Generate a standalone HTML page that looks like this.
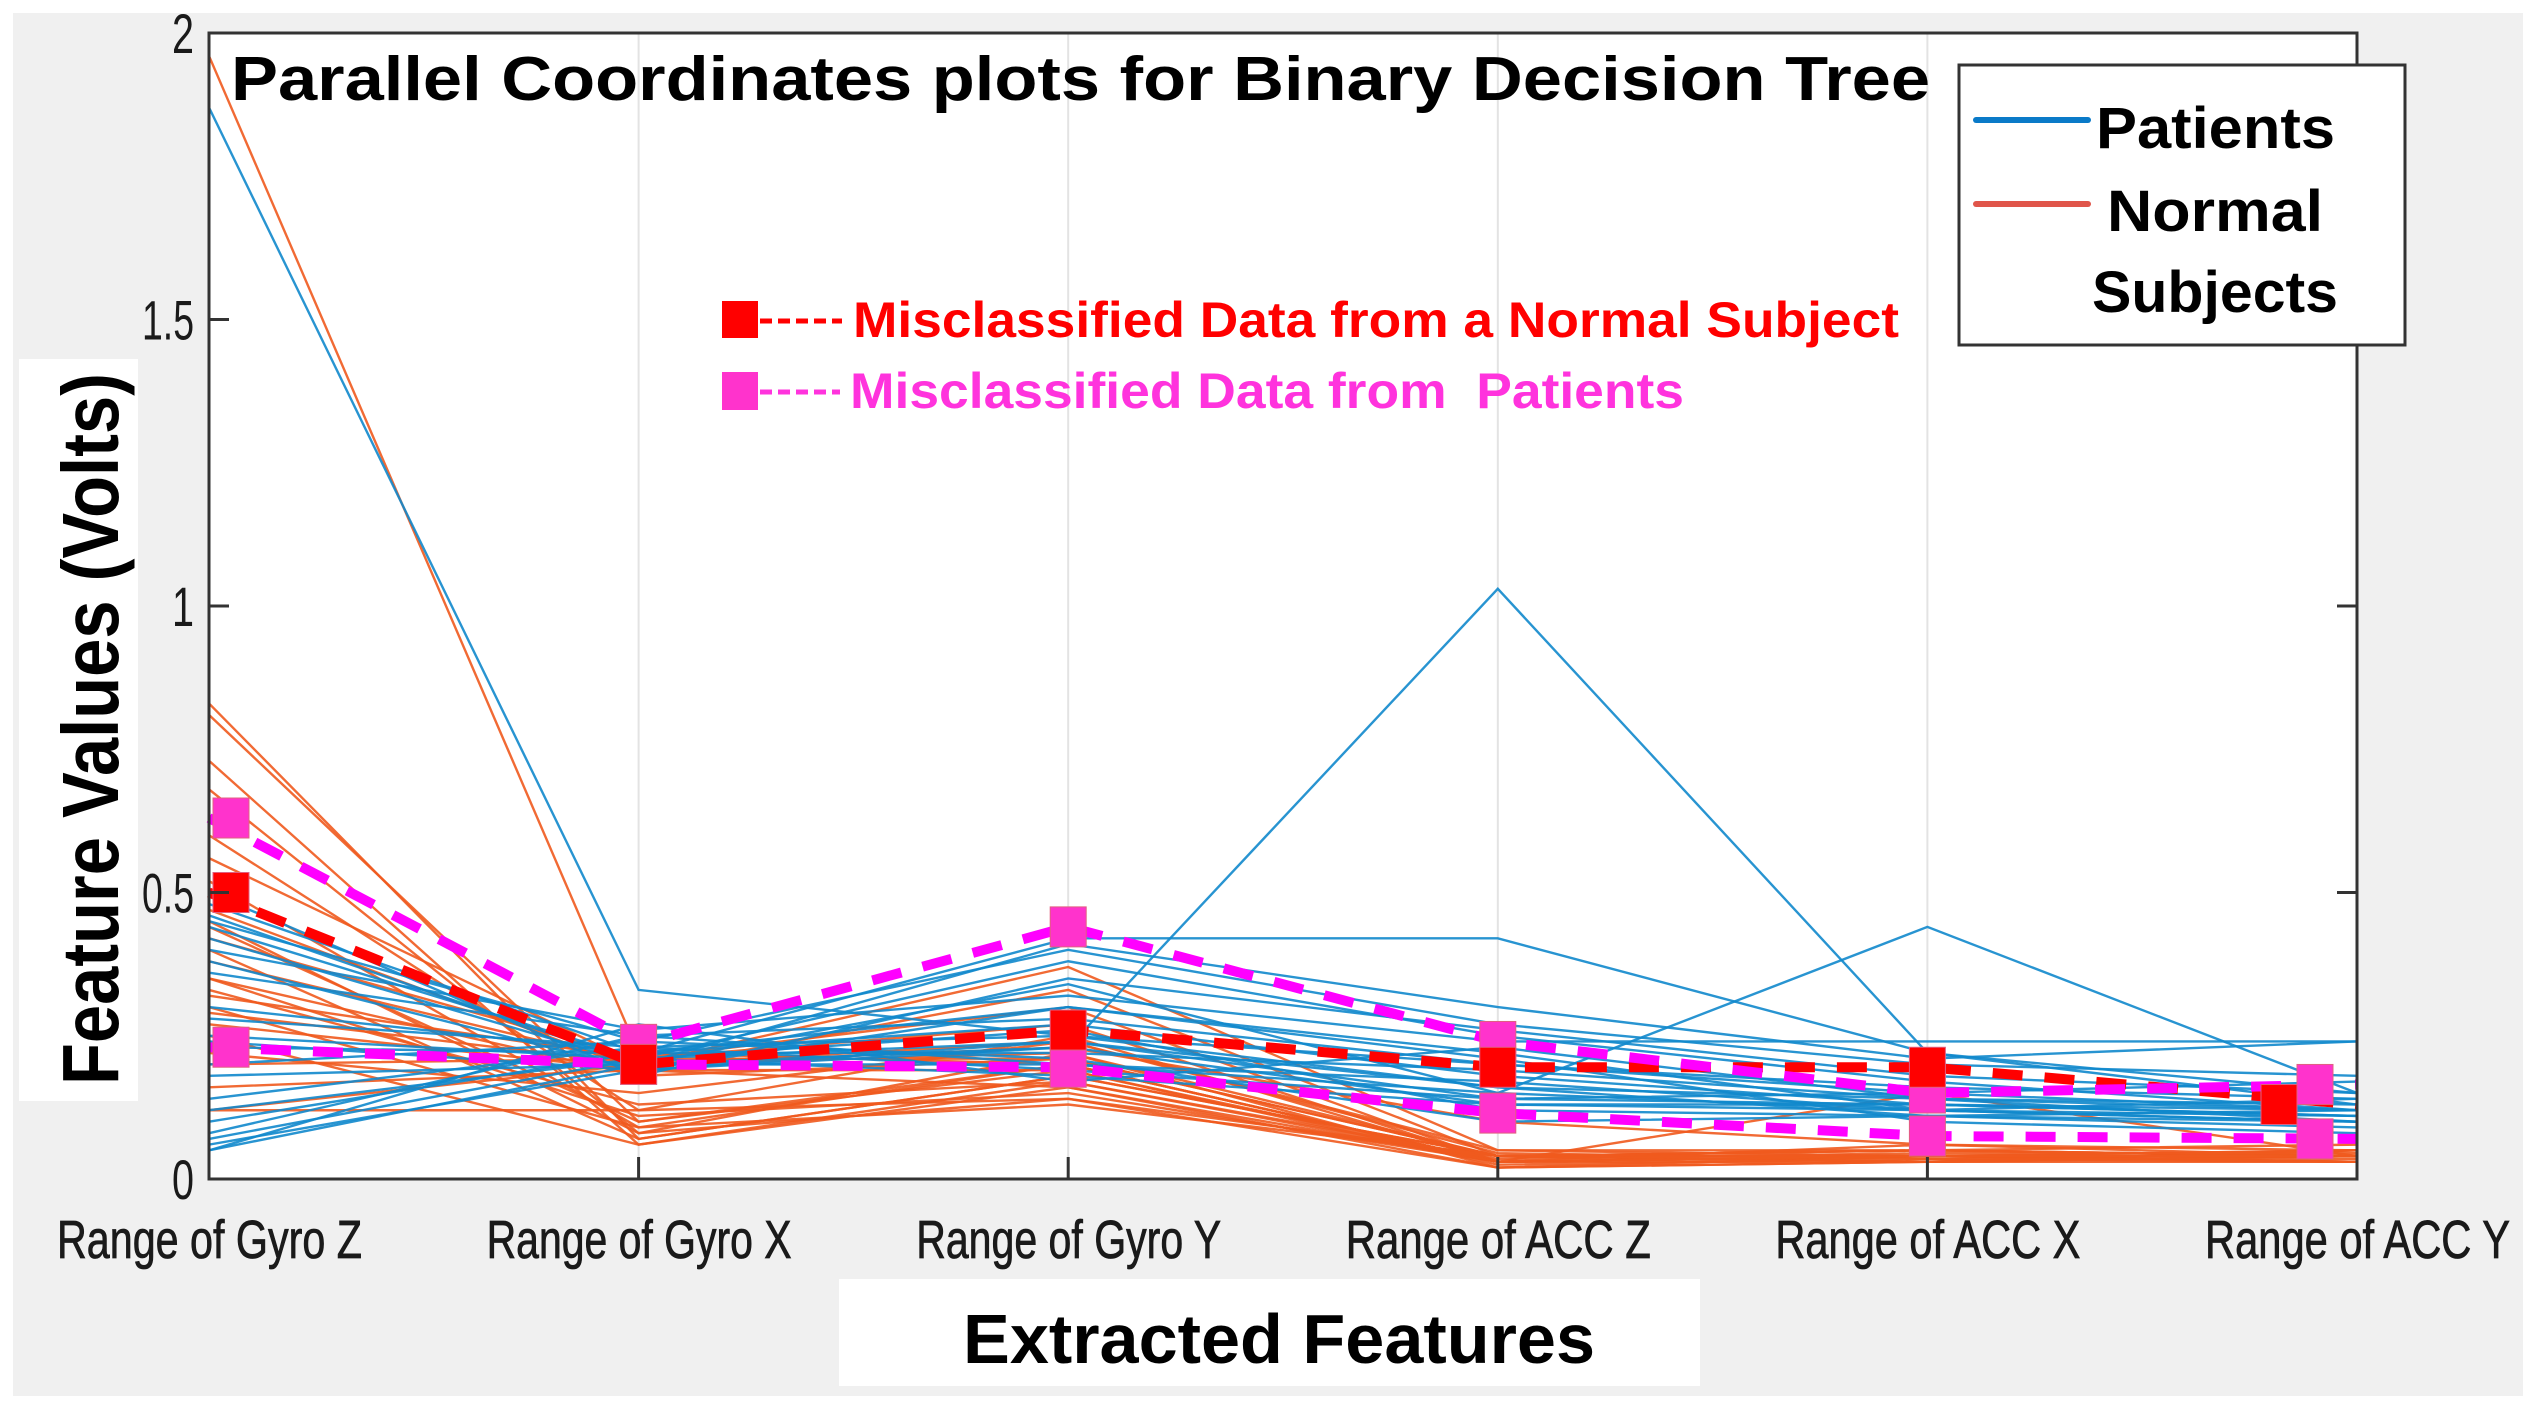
<!DOCTYPE html>
<html><head><meta charset="utf-8"><style>
html,body{margin:0;padding:0;background:#fff;}
svg{display:block;}
</style></head><body>
<svg id="chart" width="2538" height="1419" viewBox="0 0 2538 1419" xmlns="http://www.w3.org/2000/svg">
<rect x="13" y="13" width="2510" height="1383" fill="#f0f0f0"/>
<rect x="209" y="33" width="2148" height="1146" fill="#fff"/>
<g id="grid"></g>
<g id="series"></g>
<rect x="19" y="359" width="119" height="742" fill="#fff"/>
<g id="axes"></g>
<text x="231" y="100" font-family="Liberation Sans, sans-serif" font-weight="bold" font-size="62" textLength="1699" lengthAdjust="spacingAndGlyphs" fill="#000">Parallel Coordinates plots for Binary Decision Tree</text>
<g>
<rect x="722" y="301" width="36" height="37" fill="#ff0000"/>
<line x1="760" y1="321" x2="842" y2="321" stroke="#ff0000" stroke-width="5" stroke-dasharray="12,6"/>
<text x="853" y="337" font-family="Liberation Sans, sans-serif" font-weight="bold" font-size="50" textLength="1046" lengthAdjust="spacingAndGlyphs" fill="#ff0000">Misclassified Data from a Normal Subject</text>
</g>
<g>
<rect x="722" y="372" width="36" height="38" fill="#ff33cc"/>
<line x1="760" y1="392" x2="840" y2="392" stroke="#ff33dd" stroke-width="5" stroke-dasharray="12,6"/>
<text x="850" y="408" font-family="Liberation Sans, sans-serif" font-weight="bold" font-size="50" textLength="834" lengthAdjust="spacingAndGlyphs" fill="#ff33dd" xml:space="preserve">Misclassified Data from  Patients</text>
</g>
<g>
<rect x="1959" y="65" width="446" height="280" fill="#fff" stroke="#333" stroke-width="3"/>
<line x1="1976" y1="120" x2="2088" y2="120" stroke="#0a7ac8" stroke-width="6" stroke-linecap="round"/>
<text x="2096" y="148" font-family="Liberation Sans, sans-serif" font-weight="bold" font-size="58" textLength="239" lengthAdjust="spacingAndGlyphs">Patients</text>
<line x1="1976" y1="204" x2="2088" y2="204" stroke="#e0554a" stroke-width="6" stroke-linecap="round"/>
<text x="2107" y="231" font-family="Liberation Sans, sans-serif" font-weight="bold" font-size="58" textLength="216" lengthAdjust="spacingAndGlyphs">Normal</text>
<text x="2092" y="312" font-family="Liberation Sans, sans-serif" font-weight="bold" font-size="58" textLength="246" lengthAdjust="spacingAndGlyphs">Subjects</text>
</g>
<text transform="translate(118,1085) rotate(-90)" font-family="Liberation Sans, sans-serif" font-weight="bold" font-size="80" textLength="712" lengthAdjust="spacingAndGlyphs">Feature Values (Volts)</text>
<rect x="839" y="1279" width="861" height="107" fill="#fff"/>
<text x="963" y="1363" font-family="Liberation Sans, sans-serif" font-weight="bold" font-size="70" textLength="632" lengthAdjust="spacingAndGlyphs">Extracted Features</text>
</svg>
<script>
const features = ["Range of Gyro Z","Range of Gyro X","Range of Gyro Y","Range of ACC Z","Range of ACC X","Range of ACC Y"];
const yTicks = [0, 0.5, 1, 1.5, 2];
const yTickLabels = ["0","0.5","1","1.5","2"];
const patients = [
[1.87,0.33,0.25,0.20,0.15,0.12],
[0.05,0.20,0.23,1.03,0.22,0.15],
[0.48,0.22,0.42,0.42,0.22,0.13],
[0.46,0.20,0.41,0.30,0.21,0.24],
[0.45,0.24,0.40,0.27,0.20,0.18],
[0.44,0.21,0.38,0.25,0.17,0.12],
[0.42,0.20,0.34,0.15,0.44,0.15],
[0.40,0.26,0.32,0.24,0.24,0.24],
[0.38,0.19,0.30,0.22,0.12,0.10],
[0.36,0.25,0.28,0.20,0.16,0.14],
[0.30,0.22,0.27,0.18,0.13,0.11],
[0.28,0.23,0.25,0.16,0.14,0.12],
[0.25,0.21,0.24,0.14,0.15,0.17],
[0.24,0.19,0.23,0.13,0.12,0.10],
[0.23,0.22,0.22,0.19,0.14,0.13],
[0.20,0.24,0.21,0.10,0.11,0.09],
[0.18,0.20,0.20,0.17,0.12,0.11],
[0.14,0.23,0.19,0.14,0.13,0.12],
[0.12,0.21,0.26,0.12,0.11,0.10],
[0.10,0.22,0.30,0.21,0.10,0.08],
[0.08,0.25,0.20,0.15,0.12,0.14],
[0.07,0.21,0.18,0.13,0.13,0.11],
[0.06,0.19,0.24,0.16,0.11,0.12],
[0.05,0.27,0.17,0.23,0.14,0.10],
[0.50,0.18,0.35,0.26,0.18,0.15]
];
const normals = [
[1.96,0.22,0.20,0.03,0.04,0.04],
[0.83,0.07,0.18,0.04,0.03,0.04],
[0.81,0.10,0.20,0.03,0.04,0.03],
[0.73,0.06,0.16,0.02,0.03,0.05],
[0.68,0.08,0.22,0.04,0.05,0.04],
[0.60,0.12,0.25,0.03,0.04,0.04],
[0.56,0.20,0.37,0.05,0.04,0.05],
[0.52,0.09,0.20,0.03,0.03,0.03],
[0.47,0.19,0.33,0.04,0.05,0.04],
[0.45,0.08,0.14,0.02,0.04,0.04],
[0.42,0.21,0.30,0.03,0.04,0.03],
[0.40,0.07,0.18,0.04,0.03,0.04],
[0.38,0.20,0.22,0.02,0.03,0.05],
[0.35,0.11,0.15,0.03,0.04,0.04],
[0.32,0.21,0.27,0.03,0.06,0.04],
[0.30,0.09,0.13,0.04,0.04,0.03],
[0.29,0.20,0.24,0.05,0.05,0.06],
[0.27,0.19,0.16,0.03,0.15,0.04],
[0.25,0.06,0.17,0.03,0.04,0.05],
[0.20,0.21,0.21,0.04,0.03,0.04],
[0.16,0.19,0.19,0.03,0.04,0.03],
[0.12,0.12,0.14,0.04,0.05,0.04],
[0.12,0.20,0.23,0.10,0.06,0.05],
[0.35,0.18,0.21,0.04,0.04,0.04],
[0.44,0.10,0.19,0.025,0.035,0.035],
[0.33,0.13,0.17,0.035,0.045,0.045],
[0.22,0.15,0.24,0.045,0.035,0.03]
];
const misNormal = [0.50,0.20,0.26,0.195,0.195,0.13];
const misPatientA = [0.63,0.235,0.44,0.24,0.15,0.165];
const misPatientB = [0.23,0.20,0.195,0.115,0.075,0.07];

const NS = "http://www.w3.org/2000/svg";
const X0 = 209, X1 = 2357, Y0 = 1179, Y1 = 33, YMAX = 2;
function xScale(i){ return X0 + i*(X1-X0)/(features.length-1); }
function yScale(v){ return Y0 - v*(Y0-Y1)/YMAX; }
function mk(tag, attrs, parent){ const e=document.createElementNS(NS,tag); for(const k in attrs) e.setAttribute(k,attrs[k]); parent.appendChild(e); return e; }
const grid=document.getElementById('grid'), series=document.getElementById('series'), axes=document.getElementById('axes');

features.forEach((f,i)=>{
  const x=xScale(i);
  if(i>0 && i<features.length-1){
    const g=mk('line',{x1:x,y1:Y1,x2:x,y2:Y0,stroke:'#e3e3e3','stroke-width':2},grid);
    
    
  }
});

function pts(arr){ return arr.map((v,i)=>xScale(i)+','+yScale(v)).join(' '); }
normals.forEach((row,k)=>{
  const p=mk('polyline',{points:pts(row),fill:'none',stroke:'#f05a1e','stroke-width':2.4,'stroke-opacity':0.9},series);
  
  
});
patients.forEach((row,k)=>{
  const p=mk('polyline',{points:pts(row),fill:'none',stroke:'#1188cc','stroke-width':2.4,'stroke-opacity':0.9},series);
  
  
});
function dashed(row,color,name){
  const p=mk('polyline',{points:pts(row),fill:'none',stroke:color,'stroke-width':10,'stroke-dasharray':'30,22'},series);
  
  
}
dashed(misNormal,'#ff0000','misclassified-normal-line');
dashed(misPatientA,'#ff00ff','misclassified-patient-line-a');
dashed(misPatientB,'#ff00ff','misclassified-patient-line-b');
function markerX(i,shiftEnd){
  const x=xScale(i);
  if(i===0) return x+22;
  if(i===features.length-1) return x-shiftEnd;
  return x;
}
function markers(row,color,name,shiftEnd){
  row.forEach((v,i)=>{
    const cx=markerX(i,shiftEnd);
    const r=mk('rect',{x:cx-18,y:yScale(v)-20,width:36,height:40,fill:color,stroke:'#e06080','stroke-width':1},series);
    
    
  });
}
markers(misPatientA,'#ff33cc','misclassified-patient-marker',42);
markers(misPatientB,'#ff33cc','misclassified-patient-marker',42);
markers(misNormal,'#ff0000','misclassified-normal-marker',78);

const box=mk('rect',{x:X0,y:Y1,width:X1-X0,height:Y0-Y1,fill:'none',stroke:'#333','stroke-width':3},axes);


yTicks.forEach((t,k)=>{
  const y=yScale(t);
  const tl=mk('line',{x1:X0,y1:y,x2:X0+20,y2:y,stroke:'#333','stroke-width':3},axes);
  
  
  const tr=mk('line',{x1:X1-20,y1:y,x2:X1,y2:y,stroke:'#333','stroke-width':3},axes);
  
  
  const lbl=yTickLabels[k];
  const w = lbl.length>1 ? 52 : 22;
  const lab=mk('text',{x:194-w,y:y+20,'font-family':'Liberation Sans Narrow, Liberation Sans, sans-serif','font-size':56,fill:'#1a1a1a',textLength:w,lengthAdjust:'spacingAndGlyphs'},axes);
  
  
  lab.textContent=lbl;
});
features.forEach((f,i)=>{
  const x=xScale(i);
  const tk=mk('line',{x1:x,y1:Y0,x2:x,y2:Y0-22,stroke:'#333','stroke-width':3},axes);
  
  
  const lab=mk('text',{x:x-152,y:1258,'font-family':'Liberation Sans Narrow, Liberation Sans, sans-serif','font-size':54,fill:'#1a1a1a',stroke:'#1a1a1a','stroke-width':0.8,textLength:305,lengthAdjust:'spacingAndGlyphs'},axes);
  
  
  lab.textContent=f;
});
</script>
</body></html>
